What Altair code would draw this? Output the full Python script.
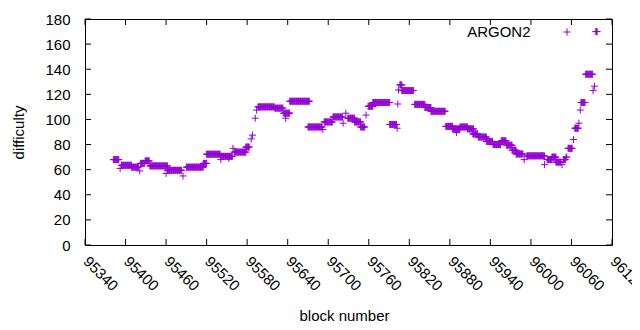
import altair as alt
import pandas as pd

series_name = "ARGON2"
x_title = "block number"
y_title = "difficulty"

# runs of constant difficulty: first block, last block, value
run_start = [95382, 95392, 95394, 95409, 95421, 95422, 95429, 95436, 95460, 95462,
             95485, 95490, 95515, 95520, 95541, 95541, 95553, 95559, 95561, 95578,
             95586, 95588, 95592, 95594, 95596, 95621, 95634, 95637, 95643, 95670,
             95692, 95694, 95707, 95722, 95726, 95729, 95739, 95748, 95756, 95759,
             95766, 95791, 95802, 95803, 95804, 95806, 95809, 95828, 95843, 95852,
             95874, 95884, 95890, 95895, 95906, 95914, 95922, 95934, 95944, 95956,
             95964, 95972, 95978, 95990, 95994, 96020, 96024, 96031, 96037, 96046,
             96048, 96052, 96055, 96063, 96065, 96071, 96073, 96074, 96081, 96092,
             96094, 96096]
run_end = [95390, 95392, 95409, 95419, 95421, 95428, 95435, 95462, 95460, 95483,
           95485, 95515, 95520, 95540, 95558, 95541, 95553, 95559, 95578, 95583,
           95586, 95588, 95592, 95594, 95620, 95633, 95643, 95637, 95672, 95691,
           95692, 95706, 95721, 95722, 95726, 95739, 95748, 95754, 95756, 95766,
           95791, 95801, 95802, 95803, 95804, 95809, 95826, 95843, 95852, 95873,
           95884, 95895, 95890, 95906, 95915, 95921, 95934, 95943, 95955, 95963,
           95972, 95978, 95988, 95990, 96020, 96020, 96031, 96037, 96044, 96046,
           96051, 96053, 96061, 96063, 96070, 96071, 96073, 96080, 96091, 96092,
           96094, 96098]
run_value = [68, 61, 63.5, 62, 59, 65, 67, 63, 57, 59.5,
             55, 62, 65, 72.3, 70.6, 68, 69, 77, 74, 78,
             84.5, 87.5, 101, 107.5, 110, 109, 105, 101, 114.5, 94,
             92, 98, 102, 97, 105, 101, 98, 94, 103.5, 110.5,
             113.5, 96, 93, 112.3, 123.5, 127.5, 123, 112, 109.5, 106.5,
             94.5, 92.5, 89.5, 94, 92.5, 88.5, 86, 82.5, 80, 83,
             79.5, 75.5, 72.5, 68, 71, 64, 68, 70, 66, 64,
             68, 70, 77, 84, 93, 97, 107.5, 113.5, 136, 123,
             126.5, 170]

x_ticks = [95340, 95400, 95460, 95520, 95580, 95640, 95700, 95760, 95820,
           95880, 95940, 96000, 96060, 96120]
y_ticks = [0, 20, 40, 60, 80, 100, 120, 140, 160, 180]

rows = []
for s, e, v in zip(run_start, run_end, run_value):
    for b in range(s, e + 1):
        rows.append({"block": b, "difficulty": v})
df = pd.DataFrame(rows)

W, H = 527, 226
COLOR = "#9400D3"
FONT = "Liberation Sans"
FS = 15
PLUS = "M-1,0L1,0M0,-1L0,1"

xscale = alt.Scale(domain=[95340, 96120], nice=False, zero=False)
yscale = alt.Scale(domain=[0, 180], nice=False)

axis_style = dict(labelFont=FONT, labelFontSize=FS, labelColor="black",
                  titleFont=FONT, titleFontSize=FS, titleColor="black",
                  titleFontWeight="normal")

xaxis = alt.Axis(values=x_ticks, format="d", labelAngle=45, labelAlign="left",
                 labelBaseline="alphabetic", labelPadding=17, labelOffset=-3,
                 ticks=False, domain=False,
                 grid=False, labelFlush=False, labelOverlap=False,
                 title=x_title, titleX=259, titleY=70, titleBaseline="middle",
                 titleAlign="center", **axis_style)
yaxis = alt.Axis(values=y_ticks, ticks=False, domain=False, grid=False,
                 labelPadding=15, labelFlush=False, labelOverlap=False,
                 title=y_title, titleX=-67, titleY=113, titleAngle=270,
                 titleAlign="center", titleBaseline="middle", **axis_style)

points = alt.Chart(df).mark_point(
    shape=PLUS, size=49, filled=False, color=COLOR, strokeWidth=1, opacity=1
).encode(
    x=alt.X("block:Q", scale=xscale, axis=xaxis),
    y=alt.Y("difficulty:Q", scale=yscale, axis=yaxis),
)

xt = pd.DataFrame({"block": x_ticks})
yt = pd.DataFrame({"difficulty": y_ticks})
TL = 6
xb = alt.Chart(xt).mark_rule(color="black", strokeWidth=1).encode(
    x=alt.X("block:Q", scale=xscale, axis=xaxis), y=alt.value(H - TL), y2=alt.value(H))
xtop = alt.Chart(xt).mark_rule(color="black", strokeWidth=1).encode(
    x=alt.X("block:Q", scale=xscale, axis=xaxis), y=alt.value(0), y2=alt.value(TL))
yl = alt.Chart(yt).mark_rule(color="black", strokeWidth=1).encode(
    y=alt.Y("difficulty:Q", scale=yscale, axis=yaxis), x=alt.value(0), x2=alt.value(TL))
yr = alt.Chart(yt).mark_rule(color="black", strokeWidth=1).encode(
    y=alt.Y("difficulty:Q", scale=yscale, axis=yaxis), x=alt.value(W - TL), x2=alt.value(W))

legend_text = alt.Chart(pd.DataFrame({"name": [series_name]})).mark_text(
    align="right", baseline="middle", font=FONT, fontSize=FS, color="black"
).encode(text="name:N", x=alt.value(445.5), y=alt.value(13))
legend_pt = alt.Chart(pd.DataFrame({"name": [series_name]})).mark_point(
    shape=PLUS, size=49, filled=False, color=COLOR, strokeWidth=1, opacity=1
).encode(x=alt.value(482), y=alt.value(13))

chart = alt.layer(points, xb, xtop, yl, yr, legend_text, legend_pt).properties(
    width=W, height=H,
    background="white",
    autosize=alt.AutoSizeParams(type="none"),
    padding={"left": 77, "top": 11, "right": 20, "bottom": 80},
).configure_view(
    stroke="black", strokeWidth=1
)

chart.save("out.html", embed_options={"renderer": "svg", "actions": False})
